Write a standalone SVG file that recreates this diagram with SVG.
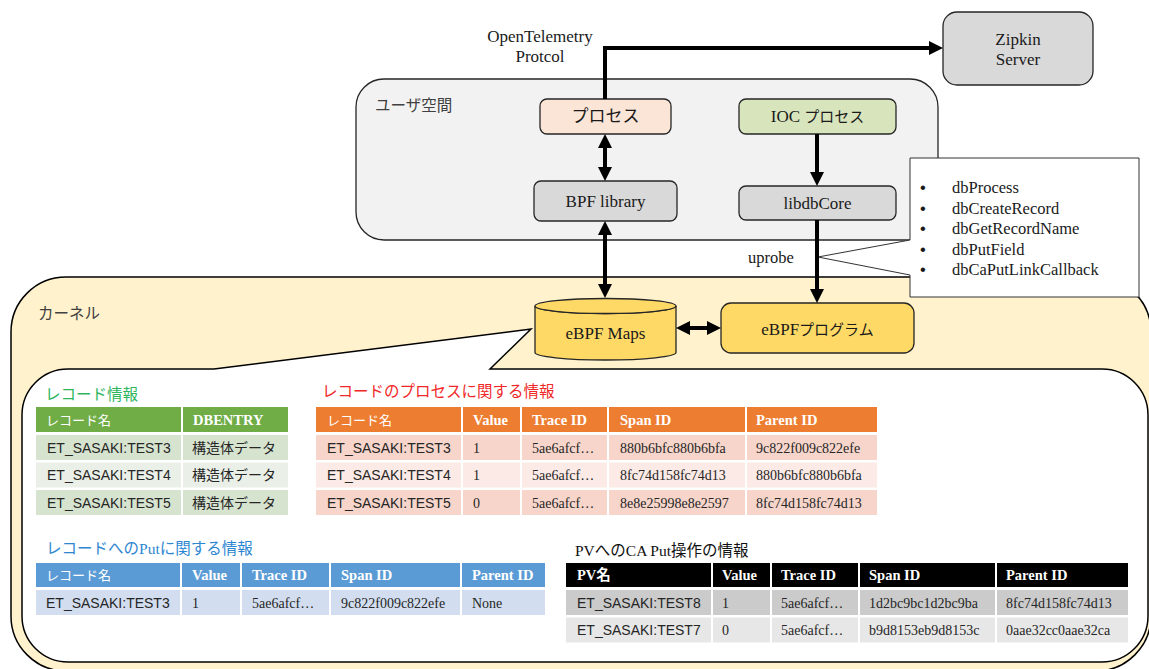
<svg xmlns="http://www.w3.org/2000/svg" width="1149" height="669" viewBox="0 0 1149 669">
  <style>
    .serif{font-family:"Liberation Serif","Noto Sans CJK JP",serif}
    .sans{font-family:"Liberation Sans","Noto Sans CJK JP",sans-serif}
    .jp{font-family:"Noto Sans CJK JP",sans-serif}
    .box{stroke:#262626;stroke-width:1.3}
    .lbl{font-size:17px;fill:#1a1a1a;text-anchor:middle}
    .area{font-size:15.5px;fill:#404040}
    .conn{stroke:#000;stroke-width:4;fill:none}
    .title{font-size:15.5px}
    .hd{fill:#fff;font-size:14.5px}
    .hdjp{fill:#fff;font-size:13px}
    .b{font-weight:bold}
    .cell{font-size:14px;fill:#262626}
    .lst{font-size:16.5px;fill:#1a1a1a}
    .green{fill:#70AD47}.g1{fill:#D6E3CF}.g2{fill:#EAF0E7}
    .orange{fill:#ED7D31}.o1{fill:#F7D5CA}.o2{fill:#FBEAE5}
    .blue{fill:#5B9BD5}.bl1{fill:#D2DEEF}
    .black{fill:#000}.k1{fill:#CBCBCB}.k2{fill:#E7E7E7}
  </style>
  <defs>
    <marker id="ah" markerUnits="userSpaceOnUse" viewBox="0 0 14 14" markerWidth="14" markerHeight="14" refX="4" refY="7" orient="auto-start-reverse">
      <path d="M0,0 L14,7 L0,14 Z" fill="#000"/>
    </marker>
  </defs>

  <!-- kernel space -->
  <g id="kernel">
    <rect x="11" y="277" width="1140" height="394" rx="55" fill="#FFF2CC" stroke="#000" stroke-width="1.5"/>
    <text x="38" y="319" class="serif area">カーネル</text>
  </g>

  <!-- map contents panel, pointing at eBPF Maps -->
  <g id="maps-panel">
    <path d="M68,369 L214,369 L531,329 L490,369 L1102,369 A46,46 0 0 1 1148,415 L1148,616 A46,46 0 0 1 1102,662 L68,662 A46,46 0 0 1 22,616 L22,415 A46,46 0 0 1 68,369 Z" fill="#fff" stroke="#000" stroke-width="1.5"/>
  </g>

  <!-- user space -->
  <g id="userspace">
    <rect x="356" y="79" width="582" height="161" rx="28" fill="#F2F2F2" stroke="#262626" stroke-width="1.3"/>
    <text x="375" y="111" class="serif area">ユーザ空間</text>
  </g>

  <g id="zipkin">
    <rect x="943" y="12" width="150" height="73" rx="14" fill="#D9D9D9" class="box"/>
    <text x="1018" y="45" class="serif lbl">Zipkin</text>
    <text x="1018" y="65" class="serif lbl">Server</text>
  </g>

  <g id="process">
    <rect x="540" y="99" width="131" height="35" rx="7" fill="#FBE5D6" class="box"/>
    <text x="605.5" y="122" class="serif lbl" font-size="15">プロセス</text>
  </g>

  <g id="bpf-library">
    <rect x="534" y="181" width="143" height="40" rx="7" fill="#D9D9D9" class="box"/>
    <text x="605.5" y="207" class="serif lbl">BPF library</text>
  </g>

  <g id="ioc-process">
    <rect x="739" y="99" width="157" height="35" rx="7" fill="#D8E4BC" class="box"/>
    <text x="817.5" y="122" class="serif lbl">IOC <tspan font-size="15">プロセス</tspan></text>
  </g>

  <g id="libdbcore">
    <rect x="739" y="186" width="157" height="34" rx="7" fill="#D9D9D9" class="box"/>
    <text x="817.5" y="209" class="serif lbl">libdbCore</text>
  </g>

  <g id="ebpf-maps">
    <path d="M535,306 L535,352.5 A70.5,7.5 0 0 0 676,352.5 L676,306 A70.5,7.5 0 0 1 535,306 Z" fill="#FFD966" class="box"/>
    <ellipse cx="605.5" cy="306" rx="70.5" ry="7.5" fill="#FFD966" class="box"/>
    <text x="605.5" y="339" class="serif lbl">eBPF Maps</text>
  </g>

  <g id="ebpf-program">
    <rect x="721" y="303" width="193" height="50" rx="10" fill="#FFD966" class="box"/>
    <text x="817.5" y="335" class="serif lbl">eBPF<tspan font-size="15">プログラム</tspan></text>
  </g>

  <!-- probed functions -->
  <g id="probe-list">
    <path d="M910,158 L1139,158 L1139,297 L910,297 L910,275 L818,257 L910,240 Z" fill="#fff" stroke="#333" stroke-width="1"/>
    <g class="sans lst">
      <text x="920" y="193">•</text>
      <text x="920" y="213.5">•</text>
      <text x="920" y="234">•</text>
      <text x="920" y="254.5">•</text>
      <text x="920" y="275">•</text>
    </g>
    <g class="serif lst">
      <text x="952" y="193">dbProcess</text>
      <text x="952" y="213.5">dbCreateRecord</text>
      <text x="952" y="234">dbGetRecordName</text>
      <text x="952" y="254.5">dbPutField</text>
      <text x="952" y="275">dbCaPutLinkCallback</text>
    </g>
  </g>

  <!-- connectors -->
  <g id="connectors">
    <path class="conn" d="M605,99 V48 H933" marker-end="url(#ah)"/>
    <path class="conn" d="M605,144 V171" marker-start="url(#ah)" marker-end="url(#ah)"/>
    <path class="conn" d="M605,231 V288" marker-start="url(#ah)" marker-end="url(#ah)"/>
    <path class="conn" d="M817,134 V176" marker-end="url(#ah)"/>
    <path class="conn" d="M817,220 V293" marker-end="url(#ah)"/>
    <path class="conn" d="M686,328 H711" marker-start="url(#ah)" marker-end="url(#ah)"/>
    <text x="540" y="42" class="serif lbl">OpenTelemetry</text>
    <text x="540" y="62" class="serif lbl">Protcol</text>
    <text x="748" y="263" class="serif" font-size="16.5" fill="#1a1a1a">uprobe</text>
  </g>

  <!-- record table -->
  <g id="table-record">
    <text x="45" y="400" class="jp title" fill="#2FB55E">レコード情報</text>
    <rect x="36" y="407" width="145" height="25" class="green"/>
    <rect x="183" y="407" width="105" height="25" class="green"/>
    <text x="46" y="424.5" class="jp hdjp">レコード名</text>
    <text x="193" y="424.5" class="serif hd b">DBENTRY</text>
    <rect x="36" y="435" width="145" height="25" class="g1"/>
    <rect x="183" y="435" width="105" height="25" class="g1"/>
    <rect x="36" y="462.5" width="145" height="25" class="g2"/>
    <rect x="183" y="462.5" width="105" height="25" class="g2"/>
    <rect x="36" y="490" width="145" height="25" class="g1"/>
    <rect x="183" y="490" width="105" height="25" class="g1"/>
    <g class="sans cell">
      <text x="47" y="452.5">ET_SASAKI:TEST3</text>
      <text x="47" y="480">ET_SASAKI:TEST4</text>
      <text x="47" y="507.5">ET_SASAKI:TEST5</text>
    </g>
    <g class="jp cell">
      <text x="192" y="452.5">構造体データ</text>
      <text x="192" y="480">構造体データ</text>
      <text x="192" y="507.5">構造体データ</text>
    </g>
  </g>

  <!-- record process table -->
  <g id="table-process">
    <text x="322" y="397" class="jp title" fill="#F02828">レコードのプロセスに関する情報</text>
    <g class="orange">
      <rect x="316" y="407" width="145" height="25"/>
      <rect x="463" y="407" width="57" height="25"/>
      <rect x="522" y="407" width="85" height="25"/>
      <rect x="609" y="407" width="136" height="25"/>
      <rect x="747" y="407" width="130" height="25"/>
    </g>
    <text x="327" y="424.5" class="jp hdjp">レコード名</text>
    <g class="serif hd b">
      <text x="473" y="424.5">Value</text>
      <text x="532" y="424.5">Trace ID</text>
      <text x="620" y="424.5">Span ID</text>
      <text x="756" y="424.5">Parent ID</text>
    </g>
    <g class="o1">
      <rect x="316" y="435" width="145" height="25"/>
      <rect x="463" y="435" width="57" height="25"/>
      <rect x="522" y="435" width="85" height="25"/>
      <rect x="609" y="435" width="136" height="25"/>
      <rect x="747" y="435" width="130" height="25"/>
      <rect x="316" y="490" width="145" height="25"/>
      <rect x="463" y="490" width="57" height="25"/>
      <rect x="522" y="490" width="85" height="25"/>
      <rect x="609" y="490" width="136" height="25"/>
      <rect x="747" y="490" width="130" height="25"/>
    </g>
    <g class="o2">
      <rect x="316" y="462.5" width="145" height="25"/>
      <rect x="463" y="462.5" width="57" height="25"/>
      <rect x="522" y="462.5" width="85" height="25"/>
      <rect x="609" y="462.5" width="136" height="25"/>
      <rect x="747" y="462.5" width="130" height="25"/>
    </g>
    <g class="sans cell">
      <text x="327" y="452.5">ET_SASAKI:TEST3</text>
      <text x="327" y="480">ET_SASAKI:TEST4</text>
      <text x="327" y="507.5">ET_SASAKI:TEST5</text>
    </g>
    <g class="serif cell">
      <text x="473" y="452.5">1</text>
      <text x="473" y="480">1</text>
      <text x="473" y="507.5">0</text>
      <text x="532" y="452.5">5ae6afcf…</text>
      <text x="532" y="480">5ae6afcf…</text>
      <text x="532" y="507.5">5ae6afcf…</text>
      <text x="620" y="452.5">880b6bfc880b6bfa</text>
      <text x="620" y="480">8fc74d158fc74d13</text>
      <text x="620" y="507.5">8e8e25998e8e2597</text>
      <text x="756" y="452.5">9c822f009c822efe</text>
      <text x="756" y="480">880b6bfc880b6bfa</text>
      <text x="756" y="507.5">8fc74d158fc74d13</text>
    </g>
  </g>

  <!-- record put table -->
  <g id="table-put">
    <text x="46" y="554" class="jp title" fill="#2E86D1">レコードへの<tspan class="serif">Put</tspan>に関する情報</text>
    <g class="blue">
      <rect x="36" y="563" width="144" height="24"/>
      <rect x="182" y="563" width="58" height="24"/>
      <rect x="242" y="563" width="87" height="24"/>
      <rect x="331" y="563" width="129" height="24"/>
      <rect x="462" y="563" width="83" height="24"/>
    </g>
    <text x="46" y="580" class="jp hdjp">レコード名</text>
    <g class="serif hd b">
      <text x="192" y="580">Value</text>
      <text x="252" y="580">Trace ID</text>
      <text x="341" y="580">Span ID</text>
      <text x="472" y="580">Parent ID</text>
    </g>
    <g class="bl1">
      <rect x="36" y="590" width="144" height="25"/>
      <rect x="182" y="590" width="58" height="25"/>
      <rect x="242" y="590" width="87" height="25"/>
      <rect x="331" y="590" width="129" height="25"/>
      <rect x="462" y="590" width="83" height="25"/>
    </g>
    <text x="46" y="607.5" class="sans cell">ET_SASAKI:TEST3</text>
    <g class="serif cell">
      <text x="192" y="607.5">1</text>
      <text x="252" y="607.5">5ae6afcf…</text>
      <text x="341" y="607.5">9c822f009c822efe</text>
      <text x="472" y="607.5">None</text>
    </g>
  </g>

  <!-- CA put table -->
  <g id="table-caput">
    <text x="575" y="556" class="serif title" fill="#111" font-size="16">PVへのCA Put操作の情報</text>
    <g class="black">
      <rect x="566" y="563" width="145" height="24"/>
      <rect x="713" y="563" width="57" height="24"/>
      <rect x="772" y="563" width="86" height="24"/>
      <rect x="860" y="563" width="135" height="24"/>
      <rect x="997" y="563" width="131" height="24"/>
    </g>
    <g class="serif hd b">
      <text x="577" y="580">PV名</text>
      <text x="722" y="580">Value</text>
      <text x="781" y="580">Trace ID</text>
      <text x="869" y="580">Span ID</text>
      <text x="1006" y="580">Parent ID</text>
    </g>
    <g class="k1">
      <rect x="566" y="590" width="145" height="25"/>
      <rect x="713" y="590" width="57" height="25"/>
      <rect x="772" y="590" width="86" height="25"/>
      <rect x="860" y="590" width="135" height="25"/>
      <rect x="997" y="590" width="131" height="25"/>
    </g>
    <g class="k2">
      <rect x="566" y="617.5" width="145" height="25"/>
      <rect x="713" y="617.5" width="57" height="25"/>
      <rect x="772" y="617.5" width="86" height="25"/>
      <rect x="860" y="617.5" width="135" height="25"/>
      <rect x="997" y="617.5" width="131" height="25"/>
    </g>
    <g class="sans cell">
      <text x="577" y="607.5">ET_SASAKI:TEST8</text>
      <text x="577" y="635">ET_SASAKI:TEST7</text>
    </g>
    <g class="serif cell">
      <text x="722" y="607.5">1</text>
      <text x="722" y="635">0</text>
      <text x="781" y="607.5">5ae6afcf…</text>
      <text x="781" y="635">5ae6afcf…</text>
      <text x="869" y="607.5">1d2bc9bc1d2bc9ba</text>
      <text x="869" y="635">b9d8153eb9d8153c</text>
      <text x="1006" y="607.5">8fc74d158fc74d13</text>
      <text x="1006" y="635">0aae32cc0aae32ca</text>
    </g>
  </g>
</svg>
